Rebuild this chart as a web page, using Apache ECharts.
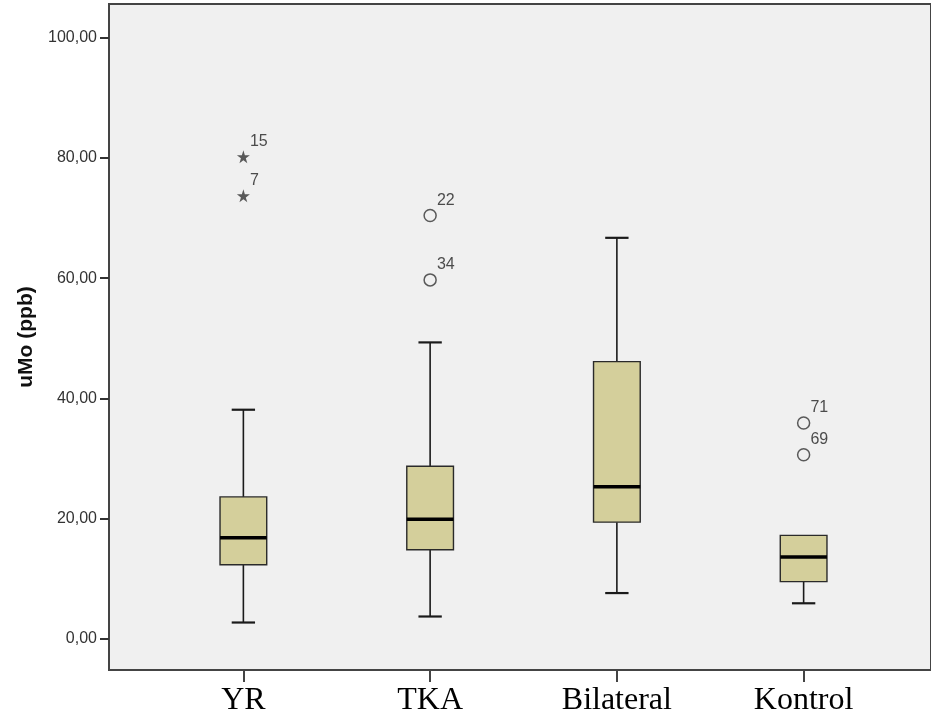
<!DOCTYPE html>
<html>
<head>
<meta charset="utf-8">
<script src="https://cdn.jsdelivr.net/npm/echarts@6/dist/echarts.min.js"></script>
<style>
  html, body { margin: 0; padding: 0; background: #fff; }
  #chart { width: 931px; height: 727px; }
</style>
</head>
<body>
<div id="chart"></div>
<script>
// groups on the x axis
const categories = ['YR', 'TKA', 'Bilateral', 'Kontrol']
// five-number summary per group (whisker low, Q1, median, Q3, whisker high)
const whiskerLow = [2.7, 3.7, 7.6, 5.9]
const q1 = [12.3, 14.8, 19.4, 9.5]
const medians = [16.8, 19.9, 25.3, 13.6]
const q3 = [23.6, 28.7, 46.1, 17.2]
const whiskerHigh = [38.1, 49.3, 66.7, 17.2]
// extreme values (stars)
const extremeCats = ['YR', 'YR']
const extremeVals = [80.2, 73.7]
const extremeIds = ['15', '7']
// outliers (circles)
const outlierCats = ['TKA', 'TKA', 'Kontrol', 'Kontrol']
const outlierVals = [70.4, 59.7, 35.9, 30.6]
const outlierIds = ['22', '34', '71', '69']
// y tick labels
const yTicks = [0, 20, 40, 60, 80, 100]

const yMin = -5.2
const yMax = 105.6
const starPath = 'path://M50,0 L61,35 L98,35 L68,57 L79,91 L50,70 L21,91 L32,57 L2,35 L39,35 Z'

const boxData = categories.map((c, i) => [i, whiskerLow[i], q1[i], medians[i], q3[i], whiskerHigh[i]])

function renderBox(params, api) {
  const idx = api.value(0)
  const x = api.coord([idx, 0])[0]
  const yLo = api.coord([idx, api.value(1)])[1]
  const yQ1 = api.coord([idx, api.value(2)])[1]
  const yMed = api.coord([idx, api.value(3)])[1]
  const yQ3 = api.coord([idx, api.value(4)])[1]
  const yHi = api.coord([idx, api.value(5)])[1]
  const bw = api.size([1, 0])[0] * 0.25
  const cw = bw * 0.5
  const stroke = { stroke: '#1a1a1a', lineWidth: 1.6 }
  const children = [
    { type: 'line', shape: { x1: x, y1: yLo, x2: x, y2: yQ1 }, style: stroke },
    { type: 'line', shape: { x1: x, y1: yQ3, x2: x, y2: yHi }, style: stroke },
    { type: 'line', shape: { x1: x - cw / 2, y1: yLo, x2: x + cw / 2, y2: yLo }, style: { stroke: '#1a1a1a', lineWidth: 2.2 } }
  ]
  // no cap when the upper whisker collapses onto the box
  if (yQ3 - yHi > 1) {
    children.push({ type: 'line', shape: { x1: x - cw / 2, y1: yHi, x2: x + cw / 2, y2: yHi }, style: { stroke: '#1a1a1a', lineWidth: 2.2 } })
  }
  children.push(
    {
      type: 'rect',
      shape: { x: x - bw / 2, y: yQ3, width: bw, height: yQ1 - yQ3 },
      style: { fill: '#d4cf9b', stroke: '#2a2a2a', lineWidth: 1.4 }
    },
    { type: 'line', shape: { x1: x - bw / 2, y1: yMed, x2: x + bw / 2, y2: yMed }, style: { stroke: '#000', lineWidth: 3.5 } }
  )
  return { type: 'group', children }
}

const pointLabel = {
  show: true,
  position: 'right',
  distance: 0,
  offset: [0, -15],
  formatter: p => p.data[2],
  fontFamily: 'Liberation Sans',
  fontSize: 16,
  color: '#222'
}

const chart = echarts.init(document.getElementById('chart'))
chart.setOption({
  animation: false,
  backgroundColor: '#fff',
  grid: [
    {
      left: 109, top: 4, right: -20, bottom: 57,
      show: true, backgroundColor: '#f0f0f0', borderColor: '#444', borderWidth: 2
    },
    { left: 150, top: 4, right: 34, bottom: 57 }
  ],
  xAxis: [
    { type: 'value', gridIndex: 0, show: false, min: 0, max: 1 },
    {
      type: 'category',
      gridIndex: 1,
      data: categories,
      axisLine: { show: false, onZero: false },
      axisTick: { show: true, alignWithLabel: true, length: 12, lineStyle: { color: '#444', width: 2 } },
      axisLabel: { fontFamily: 'Liberation Serif', fontSize: 32, color: '#000', margin: 15 }
    }
  ],
  yAxis: [
    {
      type: 'value',
      gridIndex: 0,
      min: yMin,
      max: yMax,
      name: 'uMo (ppb)',
      nameLocation: 'middle',
      nameGap: 70,
      nameTextStyle: { fontFamily: 'Liberation Sans', fontSize: 21, fontWeight: 'bold', color: '#111' },
      axisLine: { show: true, lineStyle: { color: '#444', width: 2 } },
      axisTick: { show: true, length: 9, customValues: yTicks, lineStyle: { color: '#333', width: 2 } },
      axisLabel: {
        customValues: yTicks,
        formatter: v => v.toFixed(2).replace('.', ','),
        fontFamily: 'Liberation Sans',
        fontSize: 16,
        color: '#333',
        margin: 12
      },
      splitLine: { show: false }
    },
    { type: 'value', gridIndex: 1, min: yMin, max: yMax, show: false }
  ],
  series: [
    {
      type: 'custom',
      xAxisIndex: 1,
      yAxisIndex: 1,
      renderItem: renderBox,
      encode: { x: 0, y: [1, 2, 3, 4, 5] },
      data: boxData
    },
    {
      type: 'scatter',
      xAxisIndex: 1,
      yAxisIndex: 1,
      symbol: starPath,
      symbolSize: 13,
      itemStyle: { color: '#333' },
      label: pointLabel,
      data: extremeCats.map((c, i) => [c, extremeVals[i], extremeIds[i]])
    },
    {
      type: 'scatter',
      xAxisIndex: 1,
      yAxisIndex: 1,
      symbol: 'circle',
      symbolSize: 12,
      itemStyle: { color: '#f0f0f0', borderColor: '#333', borderWidth: 1.5 },
      label: pointLabel,
      data: outlierCats.map((c, i) => [c, outlierVals[i], outlierIds[i]])
    }
  ]
})
</script>
</body>
</html>
